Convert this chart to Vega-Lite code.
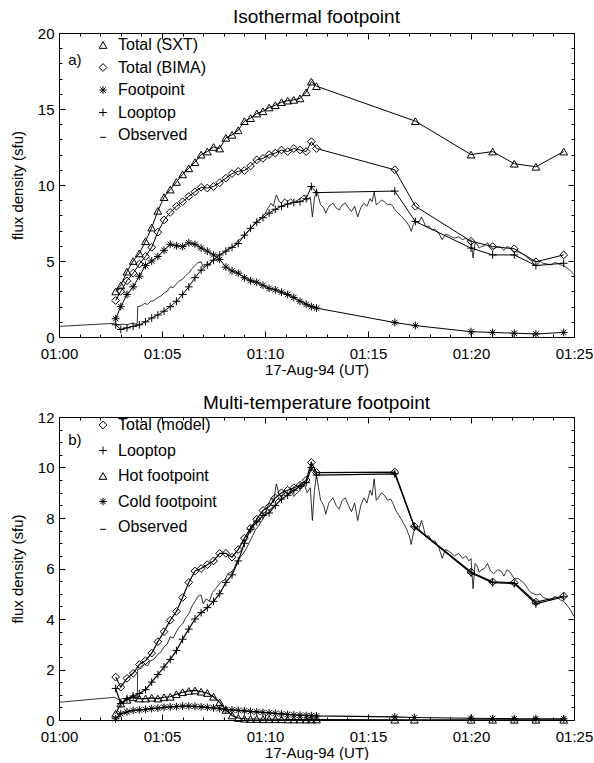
{
  "$schema": "https://vega.github.io/schema/vega-lite/v6.json",
  "background": "white",
  "padding": {"left": 10, "top": 8, "right": 0, "bottom": 0},
  "spacing": 17,
  "config": {
    "view": {"stroke": null},
    "font": "Liberation Sans",
    "axis": {"grid": false, "domainColor": "black", "tickColor": "black", "labelColor": "black", "titleColor": "black", "labelFont": "Liberation Sans", "titleFont": "Liberation Sans", "labelFontSize": 15, "titleFontSize": 15, "titleFontWeight": "normal", "domainWidth": 1, "tickWidth": 1},
    "title": {"font": "Liberation Sans", "fontSize": 19, "fontWeight": "normal", "color": "black", "anchor": "middle"},
    "legend": {"labelFont": "Liberation Sans", "labelFontSize": 16, "labelColor": "black", "padding": 0, "labelOffset": 7, "symbolStrokeColor": "black", "symbolStrokeWidth": 1, "symbolFillColor": "transparent"}
  },
  "resolve": {"scale": {"x": "independent", "y": "independent", "shape": "independent"}, "legend": {"shape": "independent"}},
  "datasets": {
    "observed": [
      {"t":0,"flux":0.7},{"t":2.7,"flux":0.9},{"t":2.9,"flux":0.8},{"t":3.1,"flux":0.85},{"t":3.3,"flux":0.8},{"t":3.5,"flux":0.9},{"t":3.7,"flux":0.85},{"t":3.8,"flux":0.9},{"t":3.82,"flux":2.0},{"t":4.0,"flux":2.05},{"t":4.15,"flux":2.2},{"t":4.3,"flux":2.15},{"t":4.45,"flux":2.35},{"t":4.6,"flux":2.4},{"t":4.8,"flux":2.6},{"t":4.95,"flux":2.7},{"t":5.1,"flux":2.9},{"t":5.25,"flux":3.0},{"t":5.4,"flux":3.3},{"t":5.55,"flux":3.25},{"t":5.7,"flux":3.5},{"t":5.85,"flux":3.7},{"t":6.0,"flux":3.8},{"t":6.15,"flux":4.05},{"t":6.3,"flux":4.2},{"t":6.45,"flux":4.5},{"t":6.6,"flux":4.7},{"t":6.75,"flux":4.9},{"t":6.9,"flux":4.95},{"t":7.0,"flux":4.6},{"t":7.15,"flux":4.8},{"t":7.3,"flux":4.7},{"t":7.45,"flux":5.05},{"t":7.6,"flux":5.2},{"t":7.75,"flux":5.35},{"t":7.9,"flux":5.5},{"t":8.05,"flux":5.55},{"t":8.2,"flux":5.8},{"t":8.35,"flux":5.85},{"t":8.5,"flux":6.0},{"t":8.65,"flux":6.3},{"t":8.8,"flux":6.45},{"t":8.95,"flux":6.6},{"t":9.1,"flux":6.8},{"t":9.25,"flux":7.05},{"t":9.4,"flux":7.3},{"t":9.55,"flux":7.55},{"t":9.7,"flux":7.7},{"t":9.85,"flux":7.9},{"t":10.0,"flux":8.1},{"t":10.15,"flux":8.5},{"t":10.3,"flux":8.8},{"t":10.4,"flux":8.6},{"t":10.55,"flux":9.35},{"t":10.7,"flux":8.9},{"t":10.8,"flux":8.8},{"t":10.95,"flux":9.1},{"t":11.1,"flux":8.9},{"t":11.25,"flux":9.1},{"t":11.4,"flux":8.85},{"t":11.5,"flux":8.95},{"t":11.65,"flux":9.05},{"t":11.8,"flux":9.2},{"t":11.9,"flux":9.35},{"t":12.05,"flux":9.0},{"t":12.2,"flux":9.2},{"t":12.3,"flux":7.9},{"t":12.4,"flux":9.1},{"t":12.5,"flux":9.7},{"t":12.6,"flux":9.2},{"t":12.7,"flux":8.7},{"t":12.85,"flux":8.5},{"t":12.95,"flux":8.15},{"t":13.1,"flux":8.6},{"t":13.3,"flux":8.8},{"t":13.45,"flux":8.5},{"t":13.6,"flux":8.35},{"t":13.75,"flux":8.7},{"t":13.9,"flux":8.8},{"t":14.05,"flux":8.5},{"t":14.2,"flux":8.25},{"t":14.35,"flux":8.6},{"t":14.5,"flux":7.9},{"t":14.65,"flux":8.5},{"t":14.8,"flux":8.8},{"t":14.95,"flux":8.6},{"t":15.1,"flux":9.1},{"t":15.2,"flux":8.9},{"t":15.3,"flux":9.55},{"t":15.4,"flux":8.7},{"t":15.5,"flux":8.8},{"t":15.65,"flux":9.0},{"t":15.8,"flux":8.9},{"t":15.95,"flux":8.7},{"t":16.1,"flux":8.75},{"t":16.2,"flux":8.6},{"t":16.35,"flux":8.3},{"t":16.5,"flux":8.1},{"t":16.65,"flux":7.9},{"t":16.85,"flux":7.6},{"t":17.0,"flux":7.3},{"t":17.1,"flux":6.95},{"t":17.2,"flux":7.4},{"t":17.3,"flux":7.6},{"t":17.45,"flux":7.5},{"t":17.6,"flux":7.9},{"t":17.7,"flux":7.6},{"t":17.8,"flux":7.25},{"t":17.95,"flux":7.3},{"t":18.1,"flux":7.05},{"t":18.25,"flux":7.1},{"t":18.45,"flux":6.8},{"t":18.6,"flux":6.4},{"t":18.75,"flux":6.75},{"t":18.9,"flux":6.7},{"t":19.05,"flux":6.6},{"t":19.2,"flux":6.5},{"t":19.4,"flux":6.6},{"t":19.6,"flux":6.4},{"t":19.75,"flux":6.5},{"t":19.9,"flux":6.3},{"t":20.0,"flux":6.4},{"t":20.1,"flux":5.2},{"t":20.2,"flux":6.2},{"t":20.3,"flux":6.1},{"t":20.4,"flux":5.85},{"t":20.5,"flux":5.95},{"t":20.65,"flux":6.0},{"t":20.8,"flux":6.2},{"t":20.95,"flux":5.9},{"t":21.1,"flux":5.8},{"t":21.3,"flux":5.95},{"t":21.45,"flux":5.9},{"t":21.6,"flux":5.7},{"t":21.75,"flux":5.95},{"t":21.9,"flux":5.85},{"t":22.1,"flux":5.6},{"t":22.3,"flux":5.6},{"t":22.45,"flux":5.5},{"t":22.6,"flux":5.4},{"t":22.75,"flux":5.2},{"t":22.9,"flux":5.05},{"t":23.05,"flux":5.0},{"t":23.2,"flux":4.95},{"t":23.35,"flux":5.0},{"t":23.5,"flux":4.85},{"t":23.7,"flux":4.8},{"t":23.9,"flux":4.75},{"t":24.05,"flux":4.9},{"t":24.2,"flux":4.85},{"t":24.35,"flux":4.75},{"t":24.5,"flux":4.7},{"t":24.65,"flux":4.55},{"t":24.8,"flux":4.4},{"t":25.0,"flux":4.1}
    ],
    "iso": [
      {"t":2.75,"flux":3.0,"series":"Total (SXT)"},{"t":3.0,"flux":3.4,"series":"Total (SXT)"},{"t":3.3,"flux":4.3,"series":"Total (SXT)"},{"t":3.6,"flux":5.0,"series":"Total (SXT)"},{"t":3.9,"flux":5.5,"series":"Total (SXT)"},{"t":4.2,"flux":6.3,"series":"Total (SXT)"},{"t":4.5,"flux":7.2,"series":"Total (SXT)"},{"t":4.8,"flux":8.3,"series":"Total (SXT)"},{"t":5.1,"flux":9.2,"series":"Total (SXT)"},{"t":5.4,"flux":9.7,"series":"Total (SXT)"},{"t":5.7,"flux":10.2,"series":"Total (SXT)"},{"t":6.0,"flux":10.7,"series":"Total (SXT)"},{"t":6.3,"flux":11.1,"series":"Total (SXT)"},{"t":6.6,"flux":11.5,"series":"Total (SXT)"},{"t":6.9,"flux":12.0,"series":"Total (SXT)"},{"t":7.2,"flux":12.2,"series":"Total (SXT)"},{"t":7.5,"flux":12.5,"series":"Total (SXT)"},{"t":7.8,"flux":12.4,"series":"Total (SXT)"},{"t":8.1,"flux":13.1,"series":"Total (SXT)"},{"t":8.4,"flux":13.3,"series":"Total (SXT)"},{"t":8.7,"flux":13.6,"series":"Total (SXT)"},{"t":9.0,"flux":14.2,"series":"Total (SXT)"},{"t":9.3,"flux":14.4,"series":"Total (SXT)"},{"t":9.6,"flux":14.7,"series":"Total (SXT)"},{"t":9.9,"flux":14.85,"series":"Total (SXT)"},{"t":10.2,"flux":15.1,"series":"Total (SXT)"},{"t":10.5,"flux":15.25,"series":"Total (SXT)"},{"t":10.8,"flux":15.45,"series":"Total (SXT)"},{"t":11.1,"flux":15.55,"series":"Total (SXT)"},{"t":11.4,"flux":15.6,"series":"Total (SXT)"},{"t":11.7,"flux":15.7,"series":"Total (SXT)"},{"t":12.0,"flux":16.1,"series":"Total (SXT)"},{"t":12.25,"flux":16.8,"series":"Total (SXT)"},{"t":12.5,"flux":16.5,"series":"Total (SXT)"},{"t":17.3,"flux":14.2,"series":"Total (SXT)"},{"t":20.0,"flux":12.0,"series":"Total (SXT)"},{"t":21.05,"flux":12.2,"series":"Total (SXT)"},{"t":22.1,"flux":11.4,"series":"Total (SXT)"},{"t":23.15,"flux":11.2,"series":"Total (SXT)"},{"t":24.5,"flux":12.2,"series":"Total (SXT)"},
      {"t":2.75,"flux":2.4,"series":"Total (BIMA)"},{"t":3.0,"flux":3.0,"series":"Total (BIMA)"},{"t":3.3,"flux":3.7,"series":"Total (BIMA)"},{"t":3.6,"flux":4.2,"series":"Total (BIMA)"},{"t":3.9,"flux":4.8,"series":"Total (BIMA)"},{"t":4.2,"flux":5.3,"series":"Total (BIMA)"},{"t":4.5,"flux":5.9,"series":"Total (BIMA)"},{"t":4.8,"flux":6.9,"series":"Total (BIMA)"},{"t":5.1,"flux":7.7,"series":"Total (BIMA)"},{"t":5.4,"flux":8.2,"series":"Total (BIMA)"},{"t":5.7,"flux":8.6,"series":"Total (BIMA)"},{"t":6.0,"flux":8.9,"series":"Total (BIMA)"},{"t":6.3,"flux":9.25,"series":"Total (BIMA)"},{"t":6.6,"flux":9.55,"series":"Total (BIMA)"},{"t":6.9,"flux":9.85,"series":"Total (BIMA)"},{"t":7.2,"flux":9.8,"series":"Total (BIMA)"},{"t":7.5,"flux":9.9,"series":"Total (BIMA)"},{"t":7.8,"flux":10.15,"series":"Total (BIMA)"},{"t":8.1,"flux":10.45,"series":"Total (BIMA)"},{"t":8.4,"flux":10.75,"series":"Total (BIMA)"},{"t":8.7,"flux":10.9,"series":"Total (BIMA)"},{"t":9.0,"flux":10.95,"series":"Total (BIMA)"},{"t":9.3,"flux":11.25,"series":"Total (BIMA)"},{"t":9.6,"flux":11.65,"series":"Total (BIMA)"},{"t":9.9,"flux":11.75,"series":"Total (BIMA)"},{"t":10.2,"flux":12.0,"series":"Total (BIMA)"},{"t":10.5,"flux":12.1,"series":"Total (BIMA)"},{"t":10.8,"flux":12.3,"series":"Total (BIMA)"},{"t":11.1,"flux":12.2,"series":"Total (BIMA)"},{"t":11.4,"flux":12.4,"series":"Total (BIMA)"},{"t":11.7,"flux":12.3,"series":"Total (BIMA)"},{"t":12.0,"flux":12.2,"series":"Total (BIMA)"},{"t":12.25,"flux":12.85,"series":"Total (BIMA)"},{"t":12.5,"flux":12.4,"series":"Total (BIMA)"},{"t":16.3,"flux":11.0,"series":"Total (BIMA)"},{"t":17.3,"flux":8.6,"series":"Total (BIMA)"},{"t":20.0,"flux":6.3,"series":"Total (BIMA)"},{"t":21.05,"flux":5.95,"series":"Total (BIMA)"},{"t":22.1,"flux":5.8,"series":"Total (BIMA)"},{"t":23.15,"flux":4.95,"series":"Total (BIMA)"},{"t":24.5,"flux":5.4,"series":"Total (BIMA)"},
      {"t":2.75,"flux":1.2,"series":"Footpoint"},{"t":3.0,"flux":2.0,"series":"Footpoint"},{"t":3.3,"flux":2.8,"series":"Footpoint"},{"t":3.6,"flux":3.3,"series":"Footpoint"},{"t":3.9,"flux":4.0,"series":"Footpoint"},{"t":4.2,"flux":4.7,"series":"Footpoint"},{"t":4.5,"flux":5.0,"series":"Footpoint"},{"t":4.8,"flux":5.3,"series":"Footpoint"},{"t":5.1,"flux":5.7,"series":"Footpoint"},{"t":5.4,"flux":6.1,"series":"Footpoint"},{"t":5.7,"flux":6.0,"series":"Footpoint"},{"t":6.0,"flux":5.95,"series":"Footpoint"},{"t":6.3,"flux":6.2,"series":"Footpoint"},{"t":6.6,"flux":6.1,"series":"Footpoint"},{"t":6.9,"flux":5.85,"series":"Footpoint"},{"t":7.2,"flux":5.65,"series":"Footpoint"},{"t":7.5,"flux":5.4,"series":"Footpoint"},{"t":7.8,"flux":5.1,"series":"Footpoint"},{"t":8.1,"flux":4.6,"series":"Footpoint"},{"t":8.4,"flux":4.35,"series":"Footpoint"},{"t":8.7,"flux":4.2,"series":"Footpoint"},{"t":9.0,"flux":3.9,"series":"Footpoint"},{"t":9.3,"flux":3.7,"series":"Footpoint"},{"t":9.6,"flux":3.6,"series":"Footpoint"},{"t":9.9,"flux":3.4,"series":"Footpoint"},{"t":10.2,"flux":3.2,"series":"Footpoint"},{"t":10.5,"flux":3.1,"series":"Footpoint"},{"t":10.8,"flux":2.95,"series":"Footpoint"},{"t":11.1,"flux":2.8,"series":"Footpoint"},{"t":11.4,"flux":2.6,"series":"Footpoint"},{"t":11.7,"flux":2.35,"series":"Footpoint"},{"t":12.0,"flux":2.15,"series":"Footpoint"},{"t":12.25,"flux":2.0,"series":"Footpoint"},{"t":12.5,"flux":1.9,"series":"Footpoint"},{"t":16.3,"flux":0.95,"series":"Footpoint"},{"t":17.3,"flux":0.75,"series":"Footpoint"},{"t":20.0,"flux":0.35,"series":"Footpoint"},{"t":21.05,"flux":0.3,"series":"Footpoint"},{"t":22.1,"flux":0.25,"series":"Footpoint"},{"t":23.15,"flux":0.2,"series":"Footpoint"},{"t":24.5,"flux":0.3,"series":"Footpoint"},
      {"t":2.75,"flux":0.8,"series":"Looptop"},{"t":3.0,"flux":0.5,"series":"Looptop"},{"t":3.3,"flux":0.6,"series":"Looptop"},{"t":3.6,"flux":0.7,"series":"Looptop"},{"t":3.9,"flux":0.8,"series":"Looptop"},{"t":4.2,"flux":1.0,"series":"Looptop"},{"t":4.5,"flux":1.25,"series":"Looptop"},{"t":4.8,"flux":1.45,"series":"Looptop"},{"t":5.1,"flux":1.7,"series":"Looptop"},{"t":5.4,"flux":2.0,"series":"Looptop"},{"t":5.7,"flux":2.35,"series":"Looptop"},{"t":6.0,"flux":2.8,"series":"Looptop"},{"t":6.3,"flux":3.3,"series":"Looptop"},{"t":6.6,"flux":3.9,"series":"Looptop"},{"t":6.9,"flux":4.4,"series":"Looptop"},{"t":7.2,"flux":4.75,"series":"Looptop"},{"t":7.5,"flux":5.05,"series":"Looptop"},{"t":7.8,"flux":5.4,"series":"Looptop"},{"t":8.1,"flux":5.65,"series":"Looptop"},{"t":8.4,"flux":5.9,"series":"Looptop"},{"t":8.7,"flux":6.15,"series":"Looptop"},{"t":9.0,"flux":6.7,"series":"Looptop"},{"t":9.3,"flux":7.15,"series":"Looptop"},{"t":9.6,"flux":7.55,"series":"Looptop"},{"t":9.9,"flux":7.85,"series":"Looptop"},{"t":10.2,"flux":8.15,"series":"Looptop"},{"t":10.5,"flux":8.4,"series":"Looptop"},{"t":10.8,"flux":8.6,"series":"Looptop"},{"t":11.1,"flux":8.75,"series":"Looptop"},{"t":11.4,"flux":8.85,"series":"Looptop"},{"t":11.7,"flux":8.9,"series":"Looptop"},{"t":12.0,"flux":9.1,"series":"Looptop"},{"t":12.25,"flux":9.9,"series":"Looptop"},{"t":12.5,"flux":9.5,"series":"Looptop"},{"t":16.3,"flux":9.6,"series":"Looptop"},{"t":17.3,"flux":7.6,"series":"Looptop"},{"t":20.0,"flux":5.85,"series":"Looptop"},{"t":21.05,"flux":5.4,"series":"Looptop"},{"t":22.1,"flux":5.4,"series":"Looptop"},{"t":23.15,"flux":4.7,"series":"Looptop"},{"t":24.5,"flux":4.85,"series":"Looptop"}
    ],
    "multi": [
      {"t":2.75,"flux":1.7,"series":"Total (model)"},{"t":3.0,"flux":1.3,"series":"Total (model)"},{"t":3.3,"flux":1.65,"series":"Total (model)"},{"t":3.6,"flux":1.85,"series":"Total (model)"},{"t":3.9,"flux":2.2,"series":"Total (model)"},{"t":4.2,"flux":2.35,"series":"Total (model)"},{"t":4.5,"flux":2.65,"series":"Total (model)"},{"t":4.8,"flux":3.1,"series":"Total (model)"},{"t":5.1,"flux":3.5,"series":"Total (model)"},{"t":5.4,"flux":3.95,"series":"Total (model)"},{"t":5.7,"flux":4.3,"series":"Total (model)"},{"t":6.0,"flux":4.85,"series":"Total (model)"},{"t":6.3,"flux":5.45,"series":"Total (model)"},{"t":6.6,"flux":5.9,"series":"Total (model)"},{"t":6.9,"flux":6.0,"series":"Total (model)"},{"t":7.2,"flux":6.15,"series":"Total (model)"},{"t":7.5,"flux":6.3,"series":"Total (model)"},{"t":7.8,"flux":6.6,"series":"Total (model)"},{"t":8.1,"flux":6.6,"series":"Total (model)"},{"t":8.4,"flux":6.45,"series":"Total (model)"},{"t":8.7,"flux":6.75,"series":"Total (model)"},{"t":9.0,"flux":7.2,"series":"Total (model)"},{"t":9.3,"flux":7.6,"series":"Total (model)"},{"t":9.6,"flux":7.95,"series":"Total (model)"},{"t":9.9,"flux":8.3,"series":"Total (model)"},{"t":10.2,"flux":8.45,"series":"Total (model)"},{"t":10.5,"flux":8.8,"series":"Total (model)"},{"t":10.8,"flux":9.0,"series":"Total (model)"},{"t":11.1,"flux":9.1,"series":"Total (model)"},{"t":11.4,"flux":9.2,"series":"Total (model)"},{"t":11.7,"flux":9.3,"series":"Total (model)"},{"t":12.0,"flux":9.5,"series":"Total (model)"},{"t":12.25,"flux":10.2,"series":"Total (model)"},{"t":12.5,"flux":9.8,"series":"Total (model)"},{"t":16.3,"flux":9.82,"series":"Total (model)"},{"t":17.25,"flux":7.67,"series":"Total (model)"},{"t":20.0,"flux":5.86,"series":"Total (model)"},{"t":21.05,"flux":5.47,"series":"Total (model)"},{"t":22.1,"flux":5.44,"series":"Total (model)"},{"t":23.15,"flux":4.67,"series":"Total (model)"},{"t":24.5,"flux":4.91,"series":"Total (model)"},
      {"t":2.75,"flux":1.25,"series":"Looptop"},{"t":3.0,"flux":0.65,"series":"Looptop"},{"t":3.3,"flux":0.85,"series":"Looptop"},{"t":3.6,"flux":0.95,"series":"Looptop"},{"t":3.9,"flux":1.05,"series":"Looptop"},{"t":4.2,"flux":1.2,"series":"Looptop"},{"t":4.5,"flux":1.5,"series":"Looptop"},{"t":4.8,"flux":1.8,"series":"Looptop"},{"t":5.1,"flux":2.1,"series":"Looptop"},{"t":5.4,"flux":2.4,"series":"Looptop"},{"t":5.7,"flux":2.75,"series":"Looptop"},{"t":6.0,"flux":3.2,"series":"Looptop"},{"t":6.3,"flux":3.6,"series":"Looptop"},{"t":6.6,"flux":4.0,"series":"Looptop"},{"t":6.9,"flux":4.25,"series":"Looptop"},{"t":7.2,"flux":4.45,"series":"Looptop"},{"t":7.5,"flux":4.7,"series":"Looptop"},{"t":7.8,"flux":5.0,"series":"Looptop"},{"t":8.1,"flux":5.45,"series":"Looptop"},{"t":8.4,"flux":5.75,"series":"Looptop"},{"t":8.7,"flux":6.3,"series":"Looptop"},{"t":9.0,"flux":7.0,"series":"Looptop"},{"t":9.3,"flux":7.55,"series":"Looptop"},{"t":9.6,"flux":7.85,"series":"Looptop"},{"t":9.9,"flux":8.1,"series":"Looptop"},{"t":10.2,"flux":8.2,"series":"Looptop"},{"t":10.5,"flux":8.5,"series":"Looptop"},{"t":10.8,"flux":8.75,"series":"Looptop"},{"t":11.1,"flux":8.9,"series":"Looptop"},{"t":11.4,"flux":9.1,"series":"Looptop"},{"t":11.7,"flux":9.25,"series":"Looptop"},{"t":12.0,"flux":9.4,"series":"Looptop"},{"t":12.25,"flux":10.0,"series":"Looptop"},{"t":12.5,"flux":9.7,"series":"Looptop"},{"t":16.3,"flux":9.75,"series":"Looptop"},{"t":17.25,"flux":7.65,"series":"Looptop"},{"t":20.0,"flux":5.82,"series":"Looptop"},{"t":21.05,"flux":5.44,"series":"Looptop"},{"t":22.1,"flux":5.4,"series":"Looptop"},{"t":23.15,"flux":4.6,"series":"Looptop"},{"t":24.5,"flux":4.88,"series":"Looptop"},
      {"t":2.75,"flux":0.25,"series":"Hot footpoint"},{"t":3.0,"flux":0.65,"series":"Hot footpoint"},{"t":3.3,"flux":0.8,"series":"Hot footpoint"},{"t":3.6,"flux":0.9,"series":"Hot footpoint"},{"t":3.9,"flux":0.85,"series":"Hot footpoint"},{"t":4.2,"flux":0.85,"series":"Hot footpoint"},{"t":4.5,"flux":0.88,"series":"Hot footpoint"},{"t":4.8,"flux":0.85,"series":"Hot footpoint"},{"t":5.1,"flux":0.9,"series":"Hot footpoint"},{"t":5.4,"flux":0.92,"series":"Hot footpoint"},{"t":5.7,"flux":1.02,"series":"Hot footpoint"},{"t":6.0,"flux":1.1,"series":"Hot footpoint"},{"t":6.3,"flux":1.15,"series":"Hot footpoint"},{"t":6.6,"flux":1.17,"series":"Hot footpoint"},{"t":6.9,"flux":1.12,"series":"Hot footpoint"},{"t":7.2,"flux":1.07,"series":"Hot footpoint"},{"t":7.5,"flux":0.92,"series":"Hot footpoint"},{"t":7.8,"flux":0.7,"series":"Hot footpoint"},{"t":8.1,"flux":0.4,"series":"Hot footpoint"},{"t":8.4,"flux":0.18,"series":"Hot footpoint"},{"t":8.7,"flux":0.08,"series":"Hot footpoint"},{"t":9.0,"flux":0.05,"series":"Hot footpoint"},{"t":9.3,"flux":0.04,"series":"Hot footpoint"},{"t":9.6,"flux":0.04,"series":"Hot footpoint"},{"t":9.9,"flux":0.03,"series":"Hot footpoint"},{"t":10.2,"flux":0.03,"series":"Hot footpoint"},{"t":10.5,"flux":0.03,"series":"Hot footpoint"},{"t":10.8,"flux":0.03,"series":"Hot footpoint"},{"t":11.1,"flux":0.02,"series":"Hot footpoint"},{"t":11.4,"flux":0.02,"series":"Hot footpoint"},{"t":11.7,"flux":0.02,"series":"Hot footpoint"},{"t":12.0,"flux":0.02,"series":"Hot footpoint"},{"t":12.25,"flux":0.02,"series":"Hot footpoint"},{"t":12.5,"flux":0.02,"series":"Hot footpoint"},{"t":16.3,"flux":0.01,"series":"Hot footpoint"},{"t":17.25,"flux":0.01,"series":"Hot footpoint"},{"t":20.0,"flux":0.01,"series":"Hot footpoint"},{"t":21.05,"flux":0.01,"series":"Hot footpoint"},{"t":22.1,"flux":0.01,"series":"Hot footpoint"},{"t":23.15,"flux":0.01,"series":"Hot footpoint"},{"t":24.5,"flux":0.01,"series":"Hot footpoint"},
      {"t":2.75,"flux":0.05,"series":"Cold footpoint"},{"t":3.0,"flux":0.25,"series":"Cold footpoint"},{"t":3.3,"flux":0.32,"series":"Cold footpoint"},{"t":3.6,"flux":0.38,"series":"Cold footpoint"},{"t":3.9,"flux":0.4,"series":"Cold footpoint"},{"t":4.2,"flux":0.42,"series":"Cold footpoint"},{"t":4.5,"flux":0.45,"series":"Cold footpoint"},{"t":4.8,"flux":0.47,"series":"Cold footpoint"},{"t":5.1,"flux":0.5,"series":"Cold footpoint"},{"t":5.4,"flux":0.52,"series":"Cold footpoint"},{"t":5.7,"flux":0.53,"series":"Cold footpoint"},{"t":6.0,"flux":0.55,"series":"Cold footpoint"},{"t":6.3,"flux":0.55,"series":"Cold footpoint"},{"t":6.6,"flux":0.54,"series":"Cold footpoint"},{"t":6.9,"flux":0.52,"series":"Cold footpoint"},{"t":7.2,"flux":0.5,"series":"Cold footpoint"},{"t":7.5,"flux":0.48,"series":"Cold footpoint"},{"t":7.8,"flux":0.45,"series":"Cold footpoint"},{"t":8.1,"flux":0.42,"series":"Cold footpoint"},{"t":8.4,"flux":0.4,"series":"Cold footpoint"},{"t":8.7,"flux":0.38,"series":"Cold footpoint"},{"t":9.0,"flux":0.36,"series":"Cold footpoint"},{"t":9.3,"flux":0.34,"series":"Cold footpoint"},{"t":9.6,"flux":0.32,"series":"Cold footpoint"},{"t":9.9,"flux":0.3,"series":"Cold footpoint"},{"t":10.2,"flux":0.28,"series":"Cold footpoint"},{"t":10.5,"flux":0.26,"series":"Cold footpoint"},{"t":10.8,"flux":0.24,"series":"Cold footpoint"},{"t":11.1,"flux":0.22,"series":"Cold footpoint"},{"t":11.4,"flux":0.2,"series":"Cold footpoint"},{"t":11.7,"flux":0.19,"series":"Cold footpoint"},{"t":12.0,"flux":0.18,"series":"Cold footpoint"},{"t":12.25,"flux":0.17,"series":"Cold footpoint"},{"t":12.5,"flux":0.16,"series":"Cold footpoint"},{"t":16.3,"flux":0.12,"series":"Cold footpoint"},{"t":17.25,"flux":0.1,"series":"Cold footpoint"},{"t":20.0,"flux":0.07,"series":"Cold footpoint"},{"t":21.05,"flux":0.06,"series":"Cold footpoint"},{"t":22.1,"flux":0.05,"series":"Cold footpoint"},{"t":23.15,"flux":0.05,"series":"Cold footpoint"},{"t":24.5,"flux":0.05,"series":"Cold footpoint"}
    ]
  },
  "vconcat": [
    {
      "width": 515,
      "height": 304,
      "title": {"text": "Isothermal footpoint", "offset": -1},
      "resolve": {"axis": {"x": "independent", "y": "independent"}},
      "layer": [
        {
          "data": {"name": "observed"},
          "mark": {"type": "line", "color": "black", "strokeWidth": 0.8},
          "encoding": {
            "x": {"field": "t", "type": "quantitative", "scale": {"domain": [0, 25], "nice": false, "zero": false},
              "axis": {"orient": "bottom", "values": [0, 5, 10, 15, 20, 25], "tickSize": -6, "labelPadding": 15, "labelFlush": false, "labelExpr": "'01:' + (datum.value < 10 ? '0' : '') + datum.value", "title": "17-Aug-94 (UT)", "titlePadding": 1}},
            "y": {"field": "flux", "type": "quantitative", "scale": {"domain": [0, 20], "nice": false},
              "axis": {"orient": "left", "values": [0, 5, 10, 15, 20], "tickSize": -6, "labelPadding": 11, "title": "flux density (sfu)", "titlePadding": 12}}
          }
        },
        {
          "data": {"name": "iso"},
          "mark": {"type": "line", "color": "black", "strokeWidth": 1},
          "encoding": {
            "x": {"field": "t", "type": "quantitative", "scale": {"domain": [0, 25], "nice": false, "zero": false},
              "axis": {"orient": "bottom", "values": [1,2,3,4,6,7,8,9,11,12,13,14,16,17,18,19,21,22,23,24], "tickSize": -3, "labels": false, "domain": false, "title": null}},
            "y": {"field": "flux", "type": "quantitative", "scale": {"domain": [0, 20], "nice": false},
              "axis": {"orient": "left", "values": [1,2,3,4,6,7,8,9,11,12,13,14,16,17,18,19], "tickSize": -3, "labels": false, "domain": false, "title": null}},
            "detail": {"field": "series", "type": "nominal"}
          }
        },
        {
          "data": {"name": "iso"},
          "mark": {"type": "point", "filled": false, "color": "black", "strokeWidth": 1, "size": 60, "opacity": 1},
          "encoding": {
            "x": {"field": "t", "type": "quantitative", "scale": {"domain": [0, 25], "nice": false, "zero": false},
              "axis": {"orient": "top", "values": [0, 5, 10, 15, 20, 25], "tickSize": -6, "labels": false, "title": null}},
            "y": {"field": "flux", "type": "quantitative", "scale": {"domain": [0, 20], "nice": false},
              "axis": {"orient": "right", "values": [0, 5, 10, 15, 20], "tickSize": -6, "labels": false, "title": null}},
            "shape": {"field": "series", "type": "nominal",
              "scale": {"domain": ["Total (SXT)", "Total (BIMA)", "Footpoint", "Looptop", "Observed"],
                "range": ["triangle-up", "diamond", "M-1,0L1,0M0,-1L0,1M-0.7,-0.7L0.7,0.7M-0.7,0.7L0.7,-0.7", "M-1,0L1,0M0,-1L0,1", "M-0.8,0.6L0.8,0.6"]},
              "legend": {"title": null, "orient": "none", "legendX": 36, "legendY": 4, "rowPadding": 6.5, "symbolSize": 60}}
          }
        },
        {
          "data": {"values": [{"label": "a)"}]},
          "mark": {"type": "text", "align": "left", "baseline": "middle", "fontSize": 15, "font": "Liberation Sans", "color": "black"},
          "encoding": {
            "x": {"datum": 0.45, "type": "quantitative", "scale": {"domain": [0, 25], "nice": false, "zero": false},
              "axis": {"orient": "top", "values": [1,2,3,4,6,7,8,9,11,12,13,14,16,17,18,19,21,22,23,24], "tickSize": -3, "labels": false, "domain": false, "title": null}},
            "y": {"datum": 18.2, "type": "quantitative", "scale": {"domain": [0, 20], "nice": false},
              "axis": {"orient": "right", "values": [1,2,3,4,6,7,8,9,11,12,13,14,16,17,18,19], "tickSize": -3, "labels": false, "domain": false, "title": null}},
            "text": {"field": "label"}
          }
        }
      ]
    },
    {
      "width": 515,
      "height": 303,
      "title": {"text": "Multi-temperature footpoint", "offset": -3},
      "resolve": {"axis": {"x": "independent", "y": "independent"}},
      "layer": [
        {
          "data": {"name": "observed"},
          "mark": {"type": "line", "color": "black", "strokeWidth": 0.8},
          "encoding": {
            "x": {"field": "t", "type": "quantitative", "scale": {"domain": [0, 25], "nice": false, "zero": false},
              "axis": {"orient": "bottom", "values": [0, 5, 10, 15, 20, 25], "tickSize": -6, "labelPadding": 15, "labelFlush": false, "labelExpr": "'01:' + (datum.value < 10 ? '0' : '') + datum.value", "title": "17-Aug-94 (UT)", "titlePadding": 1}},
            "y": {"field": "flux", "type": "quantitative", "scale": {"domain": [0, 12], "nice": false},
              "axis": {"orient": "left", "values": [0, 2, 4, 6, 8, 10, 12], "tickSize": -6, "labelPadding": 11, "title": "flux density (sfu)", "titlePadding": 12}}
          }
        },
        {
          "data": {"name": "multi"},
          "mark": {"type": "line", "color": "black", "strokeWidth": 1.2},
          "encoding": {
            "x": {"field": "t", "type": "quantitative", "scale": {"domain": [0, 25], "nice": false, "zero": false},
              "axis": {"orient": "bottom", "values": [1,2,3,4,6,7,8,9,11,12,13,14,16,17,18,19,21,22,23,24], "tickSize": -3, "labels": false, "domain": false, "title": null}},
            "y": {"field": "flux", "type": "quantitative", "scale": {"domain": [0, 12], "nice": false},
              "axis": {"orient": "left", "values": [0.5,1,1.5,2.5,3,3.5,4.5,5,5.5,6.5,7,7.5,8.5,9,9.5,10.5,11,11.5], "tickSize": -3, "labels": false, "domain": false, "title": null}},
            "detail": {"field": "series", "type": "nominal"}
          }
        },
        {
          "data": {"name": "multi"},
          "mark": {"type": "point", "filled": false, "color": "black", "strokeWidth": 1, "size": 60, "opacity": 1},
          "encoding": {
            "x": {"field": "t", "type": "quantitative", "scale": {"domain": [0, 25], "nice": false, "zero": false},
              "axis": {"orient": "top", "values": [0, 5, 10, 15, 20, 25], "tickSize": -6, "labels": false, "title": null}},
            "y": {"field": "flux", "type": "quantitative", "scale": {"domain": [0, 12], "nice": false},
              "axis": {"orient": "right", "values": [0, 2, 4, 6, 8, 10, 12], "tickSize": -6, "labels": false, "title": null}},
            "shape": {"field": "series", "type": "nominal",
              "scale": {"domain": ["Total (model)", "Looptop", "Hot footpoint", "Cold footpoint", "Observed"],
                "range": ["diamond", "M-1,0L1,0M0,-1L0,1", "triangle-up", "M-1,0L1,0M0,-1L0,1M-0.7,-0.7L0.7,0.7M-0.7,0.7L0.7,-0.7", "M-0.8,0.6L0.8,0.6"]},
              "legend": {"title": null, "orient": "none", "legendX": 36, "legendY": 0, "rowPadding": 9.5, "symbolSize": 60}}
          }
        },
        {
          "data": {"values": [{"label": "b)"}]},
          "mark": {"type": "text", "align": "left", "baseline": "middle", "fontSize": 15, "font": "Liberation Sans", "color": "black"},
          "encoding": {
            "x": {"datum": 0.45, "type": "quantitative", "scale": {"domain": [0, 25], "nice": false, "zero": false},
              "axis": {"orient": "top", "values": [1,2,3,4,6,7,8,9,11,12,13,14,16,17,18,19,21,22,23,24], "tickSize": -3, "labels": false, "domain": false, "title": null}},
            "y": {"datum": 11.1, "type": "quantitative", "scale": {"domain": [0, 12], "nice": false},
              "axis": {"orient": "right", "values": [0.5,1,1.5,2.5,3,3.5,4.5,5,5.5,6.5,7,7.5,8.5,9,9.5,10.5,11,11.5], "tickSize": -3, "labels": false, "domain": false, "title": null}},
            "text": {"field": "label"}
          }
        }
      ]
    }
  ]
}
